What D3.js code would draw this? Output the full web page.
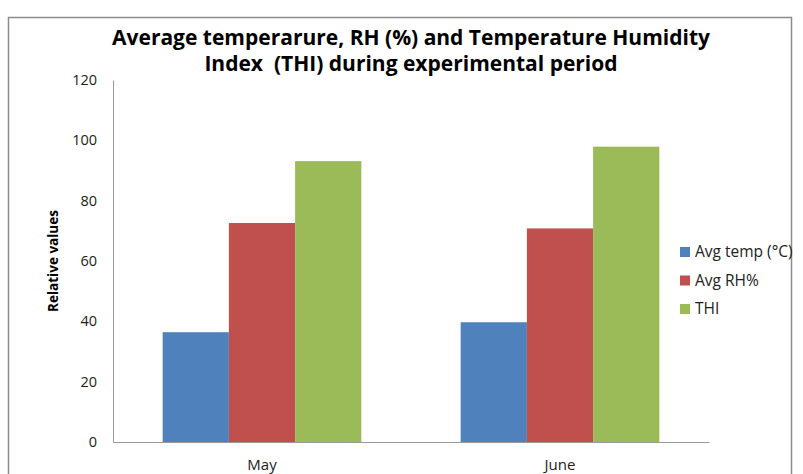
<!DOCTYPE html>
<html>
<head>
<meta charset="utf-8">
<script src="https://cdn.jsdelivr.net/npm/d3@7"></script>
<style>
  body { margin: 0; background: #fff; }
  svg { font-family: 'Open Sans', sans-serif; }
</style>
</head>
<body>
<script>
const months = ['May', 'June']
const seriesNames = ['Avg temp (°C)', 'Avg RH%', 'THI']
const avgTemp = [36.4, 39.7]
const avgRH = [72.6, 70.8]
const thi = [93.1, 97.9]
const yTicks = [0, 20, 40, 60, 80, 100, 120]
const colors = ['#4F81BD', '#C0504D', '#9BBB59']

const width = 803
const height = 474
const margin = { top: 80, right: 94, bottom: 32, left: 113 }

const svg = d3.select('body').append('svg')
  .attr('width', width)
  .attr('height', height)

// outer chart frame
svg.append('rect')
  .attr('x', 8.5).attr('y', 17.5)
  .attr('width', 783).attr('height', 470)
  .attr('fill', 'none')
  .attr('stroke', '#8c8c8c')
  .attr('stroke-width', 1.5)

const title = svg.append('text')
  .attr('text-anchor', 'middle')
  .attr('font-weight', 'bold')
  .attr('font-size', 21)
  .attr('fill', '#000')
  .style('white-space', 'pre')
title.append('tspan').attr('x', 411).attr('y', 45).text('Average temperarure, RH (%) and Temperature Humidity')
title.append('tspan').attr('x', 411).attr('y', 71).text('Index  (THI) during experimental period')

const x0 = d3.scaleBand()
  .domain(months)
  .range([margin.left, width - margin.right])

const x1 = d3.scaleBand()
  .domain(seriesNames)
  .range([0, x0.bandwidth()])
  .paddingInner(0)
  .paddingOuter(0.75)

const y = d3.scaleLinear()
  .domain([0, 120])
  .range([height - margin.bottom, margin.top])

const values = [avgTemp, avgRH, thi]
const bars = []
months.forEach((m, i) => {
  seriesNames.forEach((s, j) => bars.push({ month: m, series: s, value: values[j][i], color: colors[j] }))
})

svg.append('g')
  .selectAll('rect')
  .data(bars)
  .join('rect')
  .attr('x', d => x0(d.month) + x1(d.series))
  .attr('y', d => y(d.value))
  .attr('width', x1.bandwidth())
  .attr('height', d => y(0) - y(d.value))
  .attr('fill', d => d.color)

// y axis
const yAxis = svg.append('g')
  .attr('transform', `translate(${margin.left},0)`)
  .call(d3.axisLeft(y).tickValues(yTicks).tickSize(0).tickPadding(16))
yAxis.select('.domain').attr('stroke', '#999')
yAxis.selectAll('text').attr('font-size', 14.5).attr('fill', '#222').attr('font-family', 'Open Sans, sans-serif')

// x axis
const xAxis = svg.append('g')
  .attr('transform', `translate(0,${y(0)})`)
  .call(d3.axisBottom(x0).tickSize(0).tickPadding(17))
xAxis.select('.domain').attr('stroke', '#999')
xAxis.selectAll('text').attr('font-size', 15).attr('fill', '#222').attr('font-family', 'Open Sans, sans-serif')

svg.append('text')
  .attr('transform', `translate(58,${(y(0) + y(120)) / 2}) rotate(-90)`)
  .attr('text-anchor', 'middle')
  .attr('font-weight', 'bold')
  .attr('font-size', 13.5)
  .attr('fill', '#000')
  .text('Relative values')

// legend
const legend = svg.append('g')
  .attr('transform', 'translate(680,252)')
const item = legend.selectAll('g')
  .data(seriesNames)
  .join('g')
  .attr('transform', (d, i) => `translate(0,${i * 28.5})`)
item.append('rect')
  .attr('x', 0).attr('y', -5)
  .attr('width', 10).attr('height', 10)
  .attr('fill', (d, i) => colors[i])
item.append('text')
  .attr('x', 15)
  .attr('dy', '0.35em')
  .attr('font-size', 15.5)
  .attr('fill', '#222')
  .text(d => d)
</script>
</body>
</html>
